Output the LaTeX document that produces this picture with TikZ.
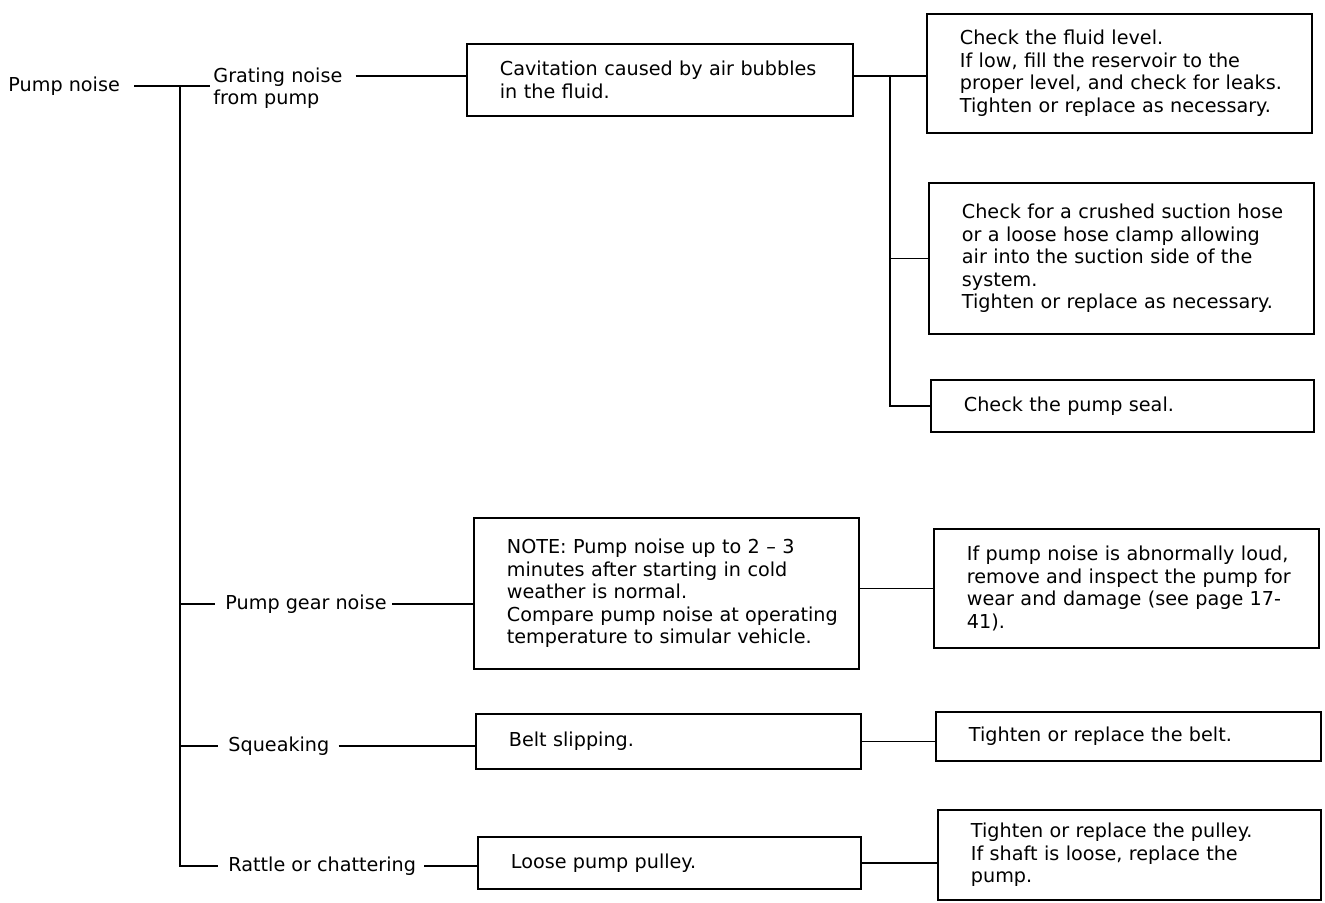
\documentclass[tikz,border=0pt]{standalone}
\usepackage{fontspec}
\setmainfont{DejaVu Sans}
\newcommand\bodyfont{\fontsize{9.6}{11.25}\selectfont}
\newcommand\Ln[1]{\mbox{#1}}
\begin{document}
\begin{tikzpicture}[x=0.5pt,y=-0.5pt,
  box/.style={draw, line width=0.9pt, anchor=north west, inner xsep=16.5pt,
              inner ysep=0pt, align=left, font=\bodyfont},
  lbl/.style={anchor=west, inner sep=0pt, font=\bodyfont, align=left},
  conn/.style={line width=0.7pt}]
\useasboundingbox (0,0) rectangle (1325,902);

% left labels
\node[lbl] (root)   at (8,86)    {Pump noise};
\node[lbl] (grate)  at (213,88)  {Grating noise\\from pump};
\node[lbl] (gear)   at (225,604) {Pump gear noise};
\node[lbl] (squeak) at (228,746) {Squeaking};
\node[lbl] (rattle) at (228,866) {Rattle or chattering};

% boxes
\node[box, minimum width=193pt, minimum height=36pt, text width=160pt] (cav) at (466,43)
  {\Ln{Cavitation caused by air bubbles}\\\Ln{in the fluid.}};
\node[box, minimum width=192.5pt, minimum height=59.5pt, text width=159.5pt] (fluid) at (926,13)
  {\Ln{Check the fluid level.}\\\Ln{If low, fill the reservoir to the}\\\Ln{proper level, and check for leaks.}\\\Ln{Tighten or replace as necessary.}};
\node[box, minimum width=192.5pt, minimum height=75.5pt, text width=159.5pt] (hose) at (928,182)
  {\Ln{Check for a crushed suction hose}\\\Ln{or a loose hose clamp allowing}\\\Ln{air into the suction side of the}\\\Ln{system.}\\\Ln{Tighten or replace as necessary.}};
\node[box, minimum width=191.5pt, minimum height=26pt, text width=158.5pt] (seal) at (930,379)
  {Check the pump seal.};
\node[box, minimum width=192.5pt, minimum height=75.5pt, text width=159.5pt] (note) at (473,517)
  {\Ln{NOTE: Pump noise up to 2 \textendash{} 3}\\\Ln{minutes after starting in cold}\\\Ln{weather is normal.}\\\Ln{Compare pump noise at operating}\\\Ln{temperature to simular vehicle.}};
\node[box, minimum width=192.5pt, minimum height=59.5pt, text width=159.5pt] (loud) at (933,528)
  {\Ln{If pump noise is abnormally loud,}\\\Ln{remove and inspect the pump for}\\\Ln{wear and damage (see page 17-}\\\Ln{41).}};
\node[box, minimum width=192.5pt, minimum height=27.5pt, text width=159.5pt] (belt) at (475,713)
  {Belt slipping.};
\node[box, minimum width=192.5pt, minimum height=24.5pt, text width=159.5pt] (tbelt) at (935,711)
  {Tighten or replace the belt.};
\node[box, minimum width=191.5pt, minimum height=26pt, text width=158.5pt] (pulley) at (477,836)
  {Loose pump pulley.};
\node[box, minimum width=191.5pt, minimum height=45pt, text width=158.5pt] (tpulley) at (937,809)
  {\Ln{Tighten or replace the pulley.}\\\Ln{If shaft is loose, replace the}\\\Ln{pump.}};

% helper coordinates
\coordinate (tk) at (180,0);
\coordinate (ya) at (0,76);
\coordinate (xb) at (890,0);

% trunk and branches
\draw[conn] ([xshift=7pt]root.east) -- ([xshift=-1.5pt]root.east -| grate.west);
\draw[conn] (tk |- root.east) |- ([xshift=-5pt]rattle.west);
\draw[conn] (tk |- gear.west) -- ([xshift=-5pt]gear.west);
\draw[conn] (tk |- squeak.west) -- ([xshift=-5pt]squeak.west);

% grating branch
\draw[conn] ([xshift=6.5pt]grate.east |- ya) -- (cav.west |- ya);
\draw[conn] (cav.east |- ya) -- (fluid.west |- ya);
\draw[conn] (xb |- ya) -- (xb |- seal.west) -- (seal.west);
\draw[conn] (xb |- hose.west) -- (hose.west);

% other rows
\draw[conn] ([xshift=2.5pt]gear.east) -- (gear.east -| note.west);
\draw[conn] (note.east |- loud.west) -- (loud.west);
\draw[conn] ([xshift=4.5pt]squeak.east) -- (squeak.east -| belt.west);
\draw[conn] (belt.east) -- (belt.east -| tbelt.west);
\draw[conn] ([xshift=4pt]rattle.east) -- (rattle.east -| pulley.west);
\draw[conn] (pulley.east) -- (pulley.east -| tpulley.west);
\end{tikzpicture}
\end{document}
